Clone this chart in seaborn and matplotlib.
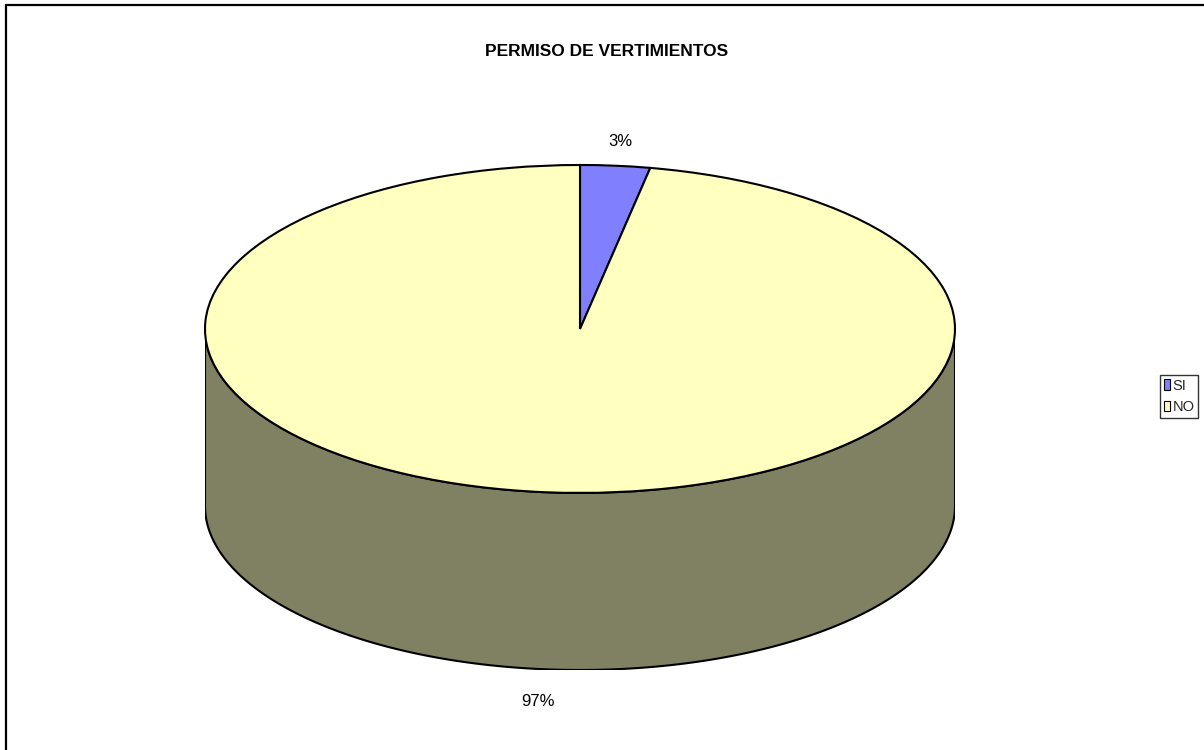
import numpy as np
import matplotlib
matplotlib.use("Agg")
import matplotlib.pyplot as plt
from matplotlib.patches import Polygon, Rectangle, Patch
import seaborn as sns

# ---- data ----
categories = ["SI", "NO"]
values = [3, 97]
pct_labels = ["3%", "97%"]
title = "PERMISO DE VERTIMIENTOS"

top_colors = ["#8080FF", "#FFFFC0"]
side_colors = ["#5A5AB3", "#808062"]

sns.set_theme(style="white")
plt.rcParams['font.family'] = ['Liberation Sans Narrow', 'Liberation Sans', 'DejaVu Sans']

W, H = 1204, 750
fig = plt.figure(figsize=(W / 100, H / 100), dpi=100)
fig.patch.set_facecolor("white")

depth = 1.08  # side depth in data units (top ellipse is unit circle)
x0, x1 = 205, 955
ytop, ybot = 165, 670
ax = fig.add_axes([x0 / W, (H - ybot) / H, (x1 - x0) / W, (ybot - ytop) / H])

fracs = np.array(values, dtype=float) / sum(values)
starts = 90 - 360 * np.concatenate([[0], np.cumsum(fracs)[:-1]])
ends = starts - 360 * fracs

# side (front, visible half: 180..360 degrees)
for i, (s, e) in enumerate(zip(starts, ends)):
    lo, hi = e, s
    segs = []
    for shift in (0, 360, -360, 720):
        a = max(lo + shift, 180)
        b = min(hi + shift, 360)
        if b > a:
            segs.append((a, b))
    for a, b in segs:
        t = np.radians(np.linspace(a, b, 200))
        xs = np.cos(t)
        ys = np.sin(t)
        pts = np.vstack([np.column_stack([xs, ys]),
                         np.column_stack([xs[::-1], ys[::-1] - depth])])
        ax.add_patch(Polygon(pts, closed=True, facecolor=side_colors[i],
                             edgecolor="black", linewidth=1.5, zorder=1))

# top face
wedges, _ = ax.pie(values, colors=top_colors, startangle=90, counterclock=False,
                   radius=1, center=(0, 0), frame=False,
                   wedgeprops=dict(edgecolor="black", linewidth=1.5))
for w in wedges:
    w.set_zorder(2)
ax.set_xlim(-1, 1)
ax.set_ylim(-1 - depth, 1)
ax.set_aspect("auto")
ax.axis("off")

# percentage labels
for i, (s, e) in enumerate(zip(starts, ends)):
    mid = np.radians((s + e) / 2)
    r = 1.15 if i == 0 else 1.2
    lx = r * np.cos(mid)
    ly = r * np.sin(mid)
    if np.sin(mid) < 0:
        ly -= depth
    ax.text(lx, ly, pct_labels[i], ha="center", va="center", fontsize=12,
            color="black", clip_on=False, zorder=5)

# title
fig.text(607 / W, 1 - 52 / H, title, ha="center", va="center",
         fontsize=12.5, fontweight="bold", color="black")

# legend
handles = [Patch(facecolor=c, edgecolor="black", linewidth=0.8) for c in top_colors]
leg = fig.legend(handles, categories, loc="upper left",
                 bbox_to_anchor=(1160 / W, 1 - 375 / H), frameon=True,
                 fontsize=10.5, handlelength=0.45, handleheight=0.7,
                 handletextpad=0.15, borderpad=0.25, labelspacing=0.5,
                 borderaxespad=0, fancybox=False)
leg.get_frame().set_edgecolor("black")
leg.get_frame().set_linewidth(1.0)

# figure border
fig.patches.append(Rectangle((6 / W, -0.02), 1.2, 1 - 5 / H + 0.02,
                             transform=fig.transFigure, fill=False,
                             edgecolor="black", linewidth=1.6, zorder=10))

fig.savefig("out.png", dpi=100, facecolor="white")
